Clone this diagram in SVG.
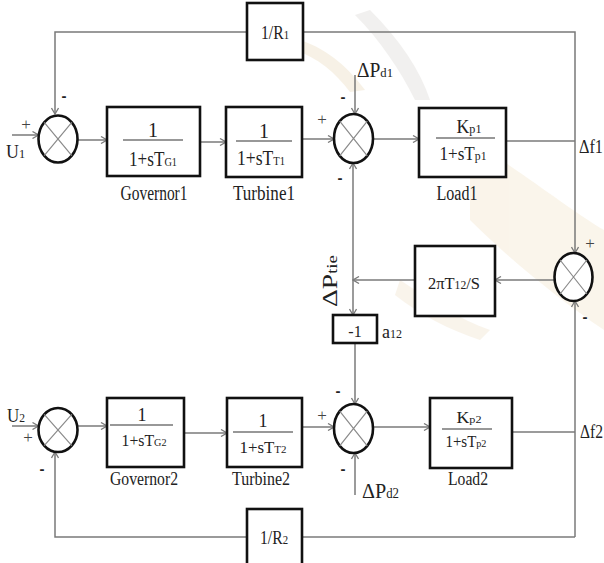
<svg xmlns="http://www.w3.org/2000/svg" width="604" height="563" viewBox="0 0 604 563">
<style>
.bg{fill:#ffffff}
.blk{fill:#ffffff;stroke:#111;stroke-width:2.6}
.sum{fill:#ffffff;stroke:#111;stroke-width:2.6}
.x{stroke:#8a8a8a;stroke-width:1.2;fill:none}
.c{fill:none;stroke:#7a7a7a;stroke-width:1.5}
.fl{stroke:#333;stroke-width:1.2}
text{font-family:"Liberation Serif","Times New Roman",serif;fill:#222}
.sg{font-family:"Liberation Sans",Arial,sans-serif;font-weight:bold;fill:#222}
.pl{font-family:"Liberation Serif",serif;fill:#444}
</style>
<defs>
<marker id="ar" markerWidth="8" markerHeight="8" refX="7" refY="4" orient="auto" markerUnits="userSpaceOnUse">
<path d="M1,0.5 L7,4 L1,7.5" fill="none" stroke="#7a7a7a" stroke-width="1.3"/>
</marker>
</defs>
<rect class="bg" x="0" y="0" width="604" height="563"/>
<g id="watermark" opacity="0.35">
<path d="M370,10 C400,40 420,70 430,100 L415,100 C400,70 380,40 355,15 Z" fill="#d9d6d2"/>
<path d="M300,40 C330,50 350,70 365,90 L350,92 C335,72 318,58 295,50 Z" fill="#ead9b8"/>
<path d="M470,140 C520,170 570,210 604,230 L604,330 C560,300 510,260 470,220 Z" fill="#f1e2c6"/>
<path d="M400,280 C430,300 460,320 490,330 L480,340 C450,330 420,315 395,295 Z" fill="#efe0c8"/>
</g>
<g id="connectors">
<path class="c" d="M247,32 H55 V114" marker-end="url(#ar)"/>
<path class="c" d="M303,32 H575 V253" marker-end="url(#ar)"/>
<path class="c" d="M12,135 H38.5" marker-end="url(#ar)"/>
<path class="c" d="M77.5,140 H107" marker-end="url(#ar)"/>
<path class="c" d="M200,142 H226" marker-end="url(#ar)"/>
<path class="c" d="M302,139 H334" marker-end="url(#ar)"/>
<path class="c" d="M355,75 V114" marker-end="url(#ar)"/>
<path class="c" d="M373,139 H419" marker-end="url(#ar)"/>
<path class="c" d="M506,141 H575"/>
<path class="c" d="M353,280 V163" marker-end="url(#ar)"/>
<path class="c" d="M353,280 V315" marker-end="url(#ar)"/>
<path class="c" d="M415,280 H353" marker-end="url(#ar)"/>
<path class="c" d="M554,280 H495" marker-end="url(#ar)"/>
<path class="c" d="M575,537 V301" marker-end="url(#ar)"/>
<path class="c" d="M355,343 V404" marker-end="url(#ar)"/>
<path class="c" d="M355,495 V453" marker-end="url(#ar)"/>
<path class="c" d="M302,427 H334" marker-end="url(#ar)"/>
<path class="c" d="M373,427 H430" marker-end="url(#ar)"/>
<path class="c" d="M512,432 H575"/>
<path class="c" d="M575,537 H302"/>
<path class="c" d="M247,537 H55 V452" marker-end="url(#ar)"/>
<path class="c" d="M12,426 H38.5" marker-end="url(#ar)"/>
<path class="c" d="M77.5,426 H107" marker-end="url(#ar)"/>
<path class="c" d="M184,433 H227" marker-end="url(#ar)"/>
</g>
<g id="R1">
<rect class="blk" x="247" y="3" width="56" height="57"/>
<text x="275" y="39" text-anchor="middle" font-size="19" textLength="28" lengthAdjust="spacingAndGlyphs">1/R<tspan font-size="13">1</tspan></text>
</g>
<g id="sum1">
<ellipse class="sum" cx="58" cy="139" rx="19.5" ry="23.5"/>
<path class="x" d="M44.2,122.4 L71.8,155.6 M71.8,122.4 L44.2,155.6"/>
</g>
<g id="U1">
<text x="6" y="158" font-size="19" textLength="19" lengthAdjust="spacingAndGlyphs">U<tspan font-size="13">1</tspan></text>
<text class="pl" x="26" y="130" text-anchor="middle" font-size="17">+</text>
<text class="sg" x="64" y="101" text-anchor="middle" font-size="15">-</text>
</g>
<g id="governor1">
<rect class="blk" x="107" y="107" width="93" height="69"/>
<text x="153" y="137" text-anchor="middle" font-size="20">1</text>
<line class="fl" x1="123" y1="140" x2="183" y2="140"/>
<text x="153" y="166" text-anchor="middle" font-size="20" textLength="48" lengthAdjust="spacingAndGlyphs">1+sT<tspan font-size="12">G1</tspan></text>
<text x="154" y="200" text-anchor="middle" font-size="20" textLength="67" lengthAdjust="spacingAndGlyphs">Governor1</text>
</g>
<g id="turbine1">
<rect class="blk" x="226" y="107" width="76" height="70"/>
<text x="264" y="138" text-anchor="middle" font-size="20">1</text>
<line class="fl" x1="236" y1="141" x2="292" y2="141"/>
<text x="261" y="165" text-anchor="middle" font-size="20" textLength="48" lengthAdjust="spacingAndGlyphs">1+sT<tspan font-size="12">T1</tspan></text>
<text x="264" y="200" text-anchor="middle" font-size="20" textLength="62" lengthAdjust="spacingAndGlyphs">Turbine1</text>
</g>
<g id="sum2">
<ellipse class="sum" cx="353.5" cy="138.5" rx="19.5" ry="24.5"/>
<path class="x" d="M339.7,121.2 L367.3,155.8 M367.3,121.2 L339.7,155.8"/>
<text class="pl" x="322" y="125" text-anchor="middle" font-size="17">+</text>
<text class="sg" x="343" y="102" text-anchor="middle" font-size="15">-</text>
<text class="sg" x="340" y="183" text-anchor="middle" font-size="15">-</text>
<text x="357" y="77" font-size="20" textLength="36" lengthAdjust="spacingAndGlyphs">ΔP<tspan font-size="13">d1</tspan></text>
</g>
<g id="load1">
<rect class="blk" x="419" y="108" width="87" height="69"/>
<text x="469" y="133" text-anchor="middle" font-size="19" textLength="25" lengthAdjust="spacingAndGlyphs">K<tspan font-size="13">p1</tspan></text>
<line class="fl" x1="436" y1="138" x2="495" y2="138"/>
<text x="463" y="160" text-anchor="middle" font-size="19" textLength="47" lengthAdjust="spacingAndGlyphs">1+sT<tspan font-size="13">p1</tspan></text>
<text x="457" y="200" text-anchor="middle" font-size="20" textLength="41" lengthAdjust="spacingAndGlyphs">Load1</text>
<text x="579" y="153" font-size="19" textLength="24" lengthAdjust="spacingAndGlyphs">Δf1</text>
</g>
<g id="tie">
<text transform="rotate(-90 337 281)" x="337" y="281" text-anchor="middle" font-size="22" textLength="52" lengthAdjust="spacingAndGlyphs">ΔP<tspan font-size="15">tie</tspan></text>
</g>
<g id="T12">
<rect class="blk" x="415" y="246" width="80" height="70"/>
<text x="454" y="289" text-anchor="middle" font-size="17" textLength="52" lengthAdjust="spacingAndGlyphs">2πT<tspan font-size="12">12</tspan>/S</text>
</g>
<g id="sum3">
<ellipse class="sum" cx="573.5" cy="277" rx="19" ry="24"/>
<path class="x" d="M560.1,260 L586.9,294 M586.9,260 L560.1,294"/>
<text class="pl" x="590" y="249" text-anchor="middle" font-size="17">+</text>
<text class="sg" x="585" y="322" text-anchor="middle" font-size="15">-</text>
</g>
<g id="a12">
<rect class="blk" x="333" y="315" width="44" height="28"/>
<text x="355" y="337" text-anchor="middle" font-size="16">-1</text>
<text x="382" y="338" font-size="18" textLength="20" lengthAdjust="spacingAndGlyphs">a<tspan font-size="12">12</tspan></text>
</g>
<g id="sum4">
<ellipse class="sum" cx="58" cy="430" rx="19.5" ry="22"/>
<path class="x" d="M44.2,414.4 L71.8,445.6 M71.8,414.4 L44.2,445.6"/>
<text x="7" y="422" font-size="19" textLength="18" lengthAdjust="spacingAndGlyphs">U<tspan font-size="13">2</tspan></text>
<text class="pl" x="28" y="443" text-anchor="middle" font-size="17">+</text>
<text class="sg" x="42" y="474" text-anchor="middle" font-size="15">-</text>
</g>
<g id="governor2">
<rect class="blk" x="107" y="398" width="77" height="69"/>
<text x="142" y="421" text-anchor="middle" font-size="18">1</text>
<line class="fl" x1="110" y1="425" x2="173" y2="425"/>
<text x="144" y="446" text-anchor="middle" font-size="17" textLength="45" lengthAdjust="spacingAndGlyphs">1+sT<tspan font-size="11">G2</tspan></text>
<text x="144" y="485" text-anchor="middle" font-size="18" textLength="68" lengthAdjust="spacingAndGlyphs">Governor2</text>
</g>
<g id="turbine2">
<rect class="blk" x="227" y="398" width="75" height="69"/>
<text x="263" y="427" text-anchor="middle" font-size="18">1</text>
<line class="fl" x1="233" y1="432" x2="293" y2="432"/>
<text x="263" y="453" text-anchor="middle" font-size="17" textLength="47" lengthAdjust="spacingAndGlyphs">1+sT<tspan font-size="11">T2</tspan></text>
<text x="261" y="485" text-anchor="middle" font-size="18" textLength="58" lengthAdjust="spacingAndGlyphs">Turbine2</text>
</g>
<g id="sum5">
<ellipse class="sum" cx="353.5" cy="428.5" rx="19.5" ry="24.5"/>
<path class="x" d="M339.7,411.2 L367.3,445.8 M367.3,411.2 L339.7,445.8"/>
<text class="pl" x="322" y="421" text-anchor="middle" font-size="17">+</text>
<text class="sg" x="338" y="396" text-anchor="middle" font-size="15">-</text>
<text class="sg" x="343" y="474" text-anchor="middle" font-size="15">-</text>
<text x="362" y="498" font-size="22" textLength="37" lengthAdjust="spacingAndGlyphs">ΔP<tspan font-size="14">d2</tspan></text>
</g>
<g id="load2">
<rect class="blk" x="430" y="398" width="82" height="70"/>
<text x="469" y="423" text-anchor="middle" font-size="16" textLength="25" lengthAdjust="spacingAndGlyphs">K<tspan font-size="11">p2</tspan></text>
<line class="fl" x1="442" y1="429" x2="492" y2="429"/>
<text x="466" y="447" text-anchor="middle" font-size="16" textLength="41" lengthAdjust="spacingAndGlyphs">1+sT<tspan font-size="11">p2</tspan></text>
<text x="468" y="485" text-anchor="middle" font-size="18" textLength="40" lengthAdjust="spacingAndGlyphs">Load2</text>
<text x="580" y="438" font-size="19" textLength="23" lengthAdjust="spacingAndGlyphs">Δf2</text>
</g>
<g id="R2">
<rect class="blk" x="247" y="509" width="55" height="70"/>
<text x="274" y="544" text-anchor="middle" font-size="19" textLength="28" lengthAdjust="spacingAndGlyphs">1/R<tspan font-size="13">2</tspan></text>
</g>
</svg>
